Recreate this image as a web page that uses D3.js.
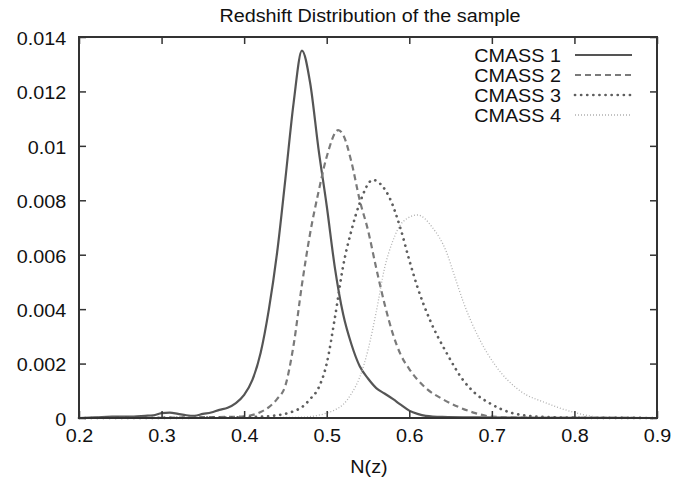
<!DOCTYPE html>
<html>
<head>
<meta charset="utf-8">
<script src="https://cdn.jsdelivr.net/npm/d3@7"></script>
<style>
  html, body { margin: 0; padding: 0; background: #fff; }
  svg { display: block; }
  text { font-family: "Liberation Sans", Arial, Helvetica, sans-serif; fill: #111; }
</style>
</head>
<body>
<svg id="chart" width="699" height="483"></svg>
<script>
// ---------------- data ----------------
const chartTitle = "Redshift Distribution of the sample";
const xLabel = "N(z)";
const seriesNames = ["CMASS 1", "CMASS 2", "CMASS 3", "CMASS 4"];

const xTicks = [0.2, 0.3, 0.4, 0.5, 0.6, 0.7, 0.8, 0.9];
const xTickLabels = ["0.2", "0.3", "0.4", "0.5", "0.6", "0.7", "0.8", "0.9"];
const yTicks = [0, 0.002, 0.004, 0.006, 0.008, 0.01, 0.012, 0.014];
const yTickLabels = ["0", "0.002", "0.004", "0.006", "0.008", "0.01", "0.012", "0.014"];

const cmass1Z = [0.2, 0.22, 0.24, 0.26, 0.28, 0.29, 0.30, 0.31, 0.32, 0.33, 0.34, 0.35, 0.36, 0.37, 0.38, 0.39, 0.40, 0.41, 0.42, 0.43, 0.44, 0.45, 0.46, 0.47, 0.48, 0.49, 0.50, 0.51, 0.52, 0.53, 0.54, 0.55, 0.56, 0.57, 0.58, 0.59, 0.60, 0.61, 0.62, 0.64, 0.68, 0.75, 0.9];
const cmass1N = [0, 0.00002, 0.00005, 0.00005, 0.00008, 0.0001, 0.00018, 0.0002, 0.00015, 0.0001, 0.00008, 0.00015, 0.0002, 0.0003, 0.00038, 0.00055, 0.00085, 0.0014, 0.0024, 0.0040, 0.0061, 0.0088, 0.0116, 0.0135, 0.0123, 0.0099, 0.0078, 0.0055, 0.0038, 0.0027, 0.0019, 0.00145, 0.0011, 0.0009, 0.0007, 0.00048, 0.00027, 0.00015, 0.00008, 0.00004, 0.00002, 0.00001, 0];

const cmass2Z = [0.2, 0.3, 0.35, 0.38, 0.40, 0.42, 0.43, 0.44, 0.45, 0.46, 0.47, 0.48, 0.49, 0.50, 0.514, 0.52, 0.53, 0.54, 0.55, 0.56, 0.57, 0.58, 0.59, 0.60, 0.62, 0.64, 0.66, 0.68, 0.70, 0.75, 0.9];
const cmass2N = [0, 0.00001, 0.00003, 0.00004, 0.00006, 0.00022, 0.0004, 0.0007, 0.0012, 0.0027, 0.0049, 0.0068, 0.0083, 0.0096, 0.01058, 0.0104, 0.0094, 0.0080, 0.0069, 0.0055, 0.0042, 0.0031, 0.0023, 0.0018, 0.0011, 0.0007, 0.0004, 0.00018, 0.00005, 0.00001, 0];

const cmass3Z = [0.2, 0.35, 0.40, 0.42, 0.44, 0.46, 0.47, 0.48, 0.49, 0.50, 0.51, 0.52, 0.53, 0.54, 0.556, 0.565, 0.576, 0.59, 0.60, 0.61, 0.625, 0.645, 0.665, 0.68, 0.697, 0.725, 0.76, 0.8, 0.9];
const cmass3N = [0, 0.00001, 0.00003, 0.00005, 0.0001, 0.00025, 0.0004, 0.0007, 0.0011, 0.0020, 0.0037, 0.0056, 0.0069, 0.0079, 0.00875, 0.0086, 0.0081, 0.0069, 0.0058, 0.0048, 0.0036, 0.0024, 0.0014, 0.0009, 0.00055, 0.00018, 0.00004, 0.00001, 0];

const cmass4Z = [0.2, 0.40, 0.45, 0.47, 0.49, 0.50, 0.51, 0.52, 0.53, 0.54, 0.55, 0.56, 0.57, 0.58, 0.592, 0.61, 0.628, 0.645, 0.655, 0.665, 0.685, 0.705, 0.734, 0.766, 0.798, 0.827, 0.85, 0.9];
const cmass4N = [0, 0.00001, 0.00002, 0.00003, 0.0001, 0.00018, 0.0003, 0.0005, 0.0009, 0.0015, 0.0025, 0.0039, 0.0055, 0.0065, 0.0072, 0.00746, 0.0070, 0.0061, 0.0052, 0.0043, 0.0029, 0.0019, 0.0010, 0.00055, 0.00022, 0.00004, 0.00001, 0];

// ---------------- chart ----------------
const series = [
  { name: seriesNames[0], z: cmass1Z, n: cmass1N, color: "#555", width: 2.2, dash: null,    cap: "butt" },
  { name: seriesNames[1], z: cmass2Z, n: cmass2N, color: "#7a7a7a", width: 2.2, dash: "6,4",  cap: "butt" },
  { name: seriesNames[2], z: cmass3Z, n: cmass3N, color: "#5e5e5e", width: 2.7, dash: "0.1,6", cap: "round" },
  { name: seriesNames[3], z: cmass4Z, n: cmass4N, color: "#b0b0b0", width: 1.3, dash: "1,2",  cap: "butt" }
];

const L = 79, R = 657, T = 37, B = 418;
const SX = 1.07;  // horizontal stretch of the glyphs in the reference
const FS = 18.5;

const svg = d3.select("#chart");
svg.append("rect").attr("width", 699).attr("height", 483).attr("fill", "#fff");

const x = d3.scaleLinear().domain([0.2, 0.9]).range([L, R]);
const y = d3.scaleLinear().domain([0, 0.014]).range([B, T]);

// curves
const line = d3.line().x(d => x(d[0])).y(d => y(d[1])).curve(d3.curveMonotoneX);
const plot = svg.append("g");
series.forEach(s => {
  const pts = s.z.map((z, i) => [z, s.n[i]]);
  plot.append("path")
    .attr("d", line(pts))
    .attr("fill", "none")
    .attr("stroke", s.color)
    .attr("stroke-width", s.width)
    .attr("stroke-dasharray", s.dash)
    .attr("stroke-linecap", s.cap)
    .attr("stroke-linejoin", "round");
});

// axes
function styleAxis(g) {
  g.select(".domain").remove();
  g.selectAll(".tick line").attr("stroke", "#333").attr("stroke-width", 1.5);
}
const axBottom = svg.append("g").attr("transform", `translate(0,${B})`)
  .call(d3.axisBottom(x).tickValues(xTicks).tickFormat((d, i) => xTickLabels[i]).tickSize(-7).tickPadding(11));
styleAxis(axBottom);
axBottom.selectAll(".tick text").attr("font-size", FS).attr("fill", "#111")
  .attr("font-family", "Liberation Sans, Arial, sans-serif")
  .attr("transform", `scale(${SX},1)`);

const axTop = svg.append("g").attr("transform", `translate(0,${T})`)
  .call(d3.axisTop(x).tickValues(xTicks).tickFormat("").tickSize(-7));
styleAxis(axTop);

const axLeft = svg.append("g").attr("transform", `translate(${L},0)`)
  .call(d3.axisLeft(y).tickValues(yTicks).tickFormat((d, i) => yTickLabels[i]).tickSize(-7).tickPadding(12));
styleAxis(axLeft);
axLeft.selectAll(".tick text").attr("font-size", FS).attr("fill", "#111")
  .attr("font-family", "Liberation Sans, Arial, sans-serif")
  .attr("dy", "0.4em")
  .attr("transform", `scale(${SX},1)`);

const axRight = svg.append("g").attr("transform", `translate(${R},0)`)
  .call(d3.axisRight(y).tickValues(yTicks).tickFormat("").tickSize(-7));
styleAxis(axRight);

// frame
svg.append("rect").attr("x", L).attr("y", T).attr("width", R - L).attr("height", B - T)
  .attr("fill", "none").attr("stroke", "#333").attr("stroke-width", 2);

// title & x label
svg.append("text").attr("transform", `translate(${(L + R) / 2 + 2},22) scale(${SX},1)`)
  .attr("text-anchor", "middle").attr("font-size", FS).text(chartTitle);
svg.append("text").attr("transform", `translate(${(L + R) / 2 + 1},473) scale(${SX},1)`)
  .attr("text-anchor", "middle").attr("font-size", FS).text(xLabel);

// legend
const legend = svg.append("g");
series.forEach((s, i) => {
  const ly = 55 + i * 20;
  legend.append("text").attr("transform", `translate(561,${ly + 6.5}) scale(${SX},1)`)
    .attr("text-anchor", "end").attr("font-size", FS).text(s.name);
  legend.append("line").attr("x1", 575).attr("x2", 632).attr("y1", ly).attr("y2", ly)
    .attr("stroke", s.color).attr("stroke-width", s.width)
    .attr("stroke-dasharray", s.dash).attr("stroke-linecap", s.cap);
});
</script>
</body>
</html>
